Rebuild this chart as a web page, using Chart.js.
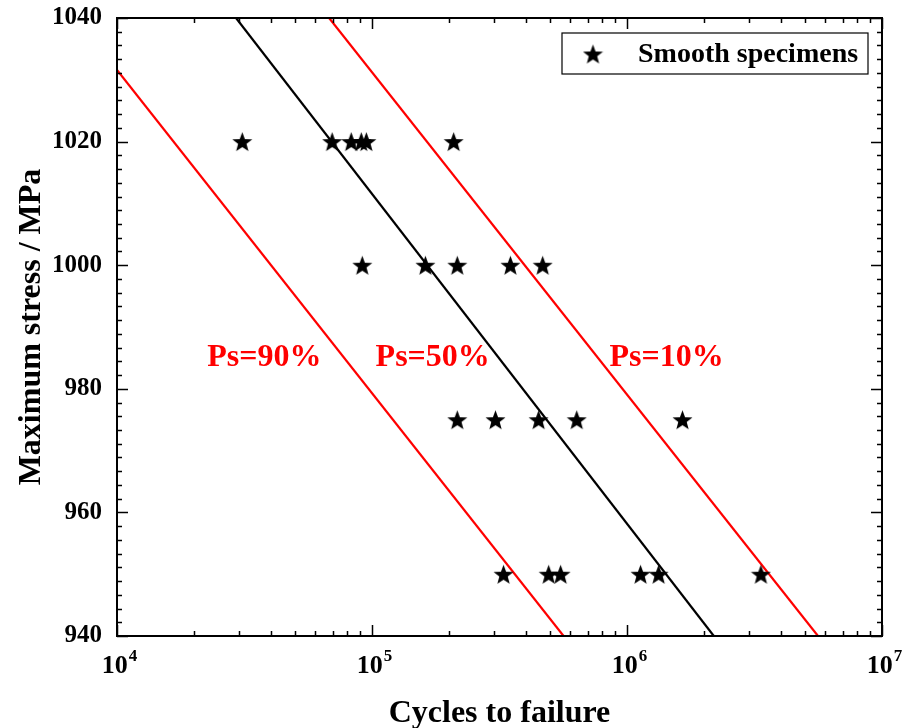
<!DOCTYPE html>
<html>
<head>
<meta charset="utf-8">
<script src="https://cdn.jsdelivr.net/npm/chart.js@4.4.1/dist/chart.umd.min.js"></script>
<style>
  html, body { margin: 0; padding: 0; background: #fff; }
</style>
</head>
<body>
<canvas id="sn" width="905" height="728"></canvas>
<script>
// smooth specimens: stress level (MPa) and cycles to failure
const stress = [1020, 1020, 1020, 1020, 1020, 1020,
                1000, 1000, 1000, 1000, 1000,
                975, 975, 975, 975, 975,
                950, 950, 950, 950, 950, 950];
const cycles = [3.10e4, 6.98e4, 8.29e4, 9.08e4, 9.50e4, 2.09e5,
                9.16e4, 1.62e5, 2.16e5, 3.49e5, 4.67e5,
                2.16e5, 3.05e5, 4.50e5, 6.35e5, 1.65e6,
                3.28e5, 4.93e5, 5.49e5, 1.13e6, 1.33e6, 3.35e6];

// P-S-N curves, end points as [cycles, stress]
const curve90 = [[1e4, 1031.6], [5.64e5, 940]];
const curve50 = [[2.93e4, 1040], [2.19e6, 940]];
const curve10 = [[6.79e4, 1040], [5.61e6, 940]];

const curveLabels = ['Ps=90%', 'Ps=50%', 'Ps=10%'];
const labelCycles = [3.78e4, 1.73e5, 1.43e6];
const labelStress = [985, 985, 985];

const xTicks = [1e4, 1e5, 1e6, 1e7];
const yTicks = [940, 960, 980, 1000, 1020, 1040];

const serif = "'Liberation Serif', 'Times New Roman', serif";

function starImage(size) {
  const c = document.createElement('canvas');
  c.width = size; c.height = size;
  const g = c.getContext('2d');
  const r = size / 2, ri = r * 0.42;
  g.beginPath();
  for (let i = 0; i < 10; i++) {
    const a = -Math.PI / 2 + i * Math.PI / 5;
    const rr = i % 2 ? ri : r;
    g.lineTo(r + rr * Math.cos(a), r + 1 + rr * Math.sin(a));
  }
  g.closePath();
  g.fillStyle = '#000';
  g.fill();
  return c;
}
const star = starImage(21);

function toXY(arr) {
  return arr.map(p => ({ x: p[0], y: p[1] }));
}

const frame = {
  id: 'frame',
  afterDatasetsDraw(chart) {
    const { ctx, chartArea: a, scales: { x, y } } = chart;
    ctx.save();
    ctx.strokeStyle = '#000';
    ctx.lineWidth = 1.5;
    ctx.beginPath();
    for (let e = 4; e <= 7; e++) {
      for (let m = 1; m <= 9; m++) {
        if (e === 7 && m > 1) break;
        const px = Math.round(x.getPixelForValue(m * Math.pow(10, e))) + 0.5;
        const len = m === 1 ? 11 : 5;
        ctx.moveTo(px, a.bottom); ctx.lineTo(px, a.bottom - len);
        ctx.moveTo(px, a.top); ctx.lineTo(px, a.top + len);
      }
    }
    for (let i = 0; i <= 45; i++) {
      const v = 940 + i * 20 / 9;
      const py = Math.round(y.getPixelForValue(v)) + 0.5;
      const len = i % 9 === 0 ? 11 : 5;
      ctx.moveTo(a.left, py); ctx.lineTo(a.left + len, py);
      ctx.moveTo(a.right, py); ctx.lineTo(a.right - len, py);
    }
    ctx.stroke();
    ctx.lineWidth = 2;
    ctx.strokeRect(a.left, a.top, a.right - a.left, a.bottom - a.top);

    // x tick labels, 10 with a raised exponent
    ctx.fillStyle = '#000';
    ctx.textBaseline = 'alphabetic';
    xTicks.forEach(v => {
      const base = '10', exp = String(Math.round(Math.log10(v)));
      ctx.font = 'bold 26px ' + serif;
      const wb = ctx.measureText(base).width;
      ctx.font = 'bold 17px ' + serif;
      const we = ctx.measureText(exp).width;
      const x0 = x.getPixelForValue(v) - (wb + we) / 2 + 2;
      ctx.textAlign = 'left';
      ctx.font = 'bold 26px ' + serif;
      ctx.fillText(base, x0, a.bottom + 37);
      ctx.font = 'bold 17px ' + serif;
      ctx.fillText(exp, x0 + wb + 1, a.bottom + 25);
    });

    // curve labels
    ctx.fillStyle = '#ff0000';
    ctx.font = 'bold 32px ' + serif;
    ctx.textAlign = 'center';
    ctx.textBaseline = 'middle';
    curveLabels.forEach((t, i) => {
      ctx.fillText(t, x.getPixelForValue(labelCycles[i]), y.getPixelForValue(labelStress[i]));
    });

    // legend box
    const bx = a.right - 320, by = a.top + 15;
    ctx.lineWidth = 1.2;
    ctx.strokeStyle = '#000';
    ctx.strokeRect(bx, by, 306, 41);
    ctx.drawImage(star, bx + 31 - star.width / 2, by + 21 - star.height / 2);
    ctx.fillStyle = '#000';
    ctx.font = 'bold 28px ' + serif;
    ctx.textAlign = 'left';
    ctx.fillText('Smooth specimens', bx + 76, by + 22);
    ctx.restore();
  }
};

new Chart(document.getElementById('sn'), {
  type: 'scatter',
  data: {
    datasets: [
      {
        label: 'Smooth specimens',
        data: cycles.map((c, i) => ({ x: c, y: stress[i] })),
        pointStyle: star,
        pointRadius: 10
      },
      { label: 'Ps=90%', type: 'line', data: toXY(curve90), showLine: true, borderColor: '#ff0000', borderWidth: 2.2, pointRadius: 0, fill: false },
      { label: 'Ps=50%', type: 'line', data: toXY(curve50), showLine: true, borderColor: '#000000', borderWidth: 2.2, pointRadius: 0, fill: false },
      { label: 'Ps=10%', type: 'line', data: toXY(curve10), showLine: true, borderColor: '#ff0000', borderWidth: 2.2, pointRadius: 0, fill: false }
    ]
  },
  options: {
    responsive: false,
    animation: false,
    devicePixelRatio: 1,
    layout: { padding: { left: 0, top: 18, right: 23, bottom: 0 } },
    plugins: {
      legend: { display: false },
      tooltip: { enabled: false }
    },
    scales: {
      x: {
        type: 'logarithmic',
        min: 1e4,
        max: 1e7,
        grid: { display: false, drawTicks: false },
        border: { display: false },
        afterBuildTicks: s => { s.ticks = xTicks.map(v => ({ value: v })); },
        afterFit: s => { s.height = 92; s.paddingLeft = 0; s.paddingRight = 0; },
        ticks: { display: false },
        title: {
          display: true,
          text: 'Cycles to failure',
          color: '#000',
          padding: { top: 0, bottom: 0 },
          font: { family: serif, size: 32, weight: 'bold', lineHeight: 0.9 }
        }
      },
      y: {
        min: 940,
        max: 1040,
        grid: { display: false, drawTicks: false },
        border: { display: false },
        afterBuildTicks: s => { s.ticks = yTicks.map(v => ({ value: v })); },
        afterFit: s => { s.width = 117; s.paddingTop = 0; s.paddingBottom = 0; },
        ticks: {
          color: '#000',
          padding: 15,
          font: { family: serif, size: 25, weight: 'bold' },
          callback: v => String(v)
        },
        title: {
          display: true,
          text: 'Maximum stress / MPa',
          color: '#000',
          padding: { top: 16, bottom: 0 },
          font: { family: serif, size: 32, weight: 'bold', lineHeight: 1 }
        }
      }
    }
  },
  plugins: [frame]
});
</script>
</body>
</html>
